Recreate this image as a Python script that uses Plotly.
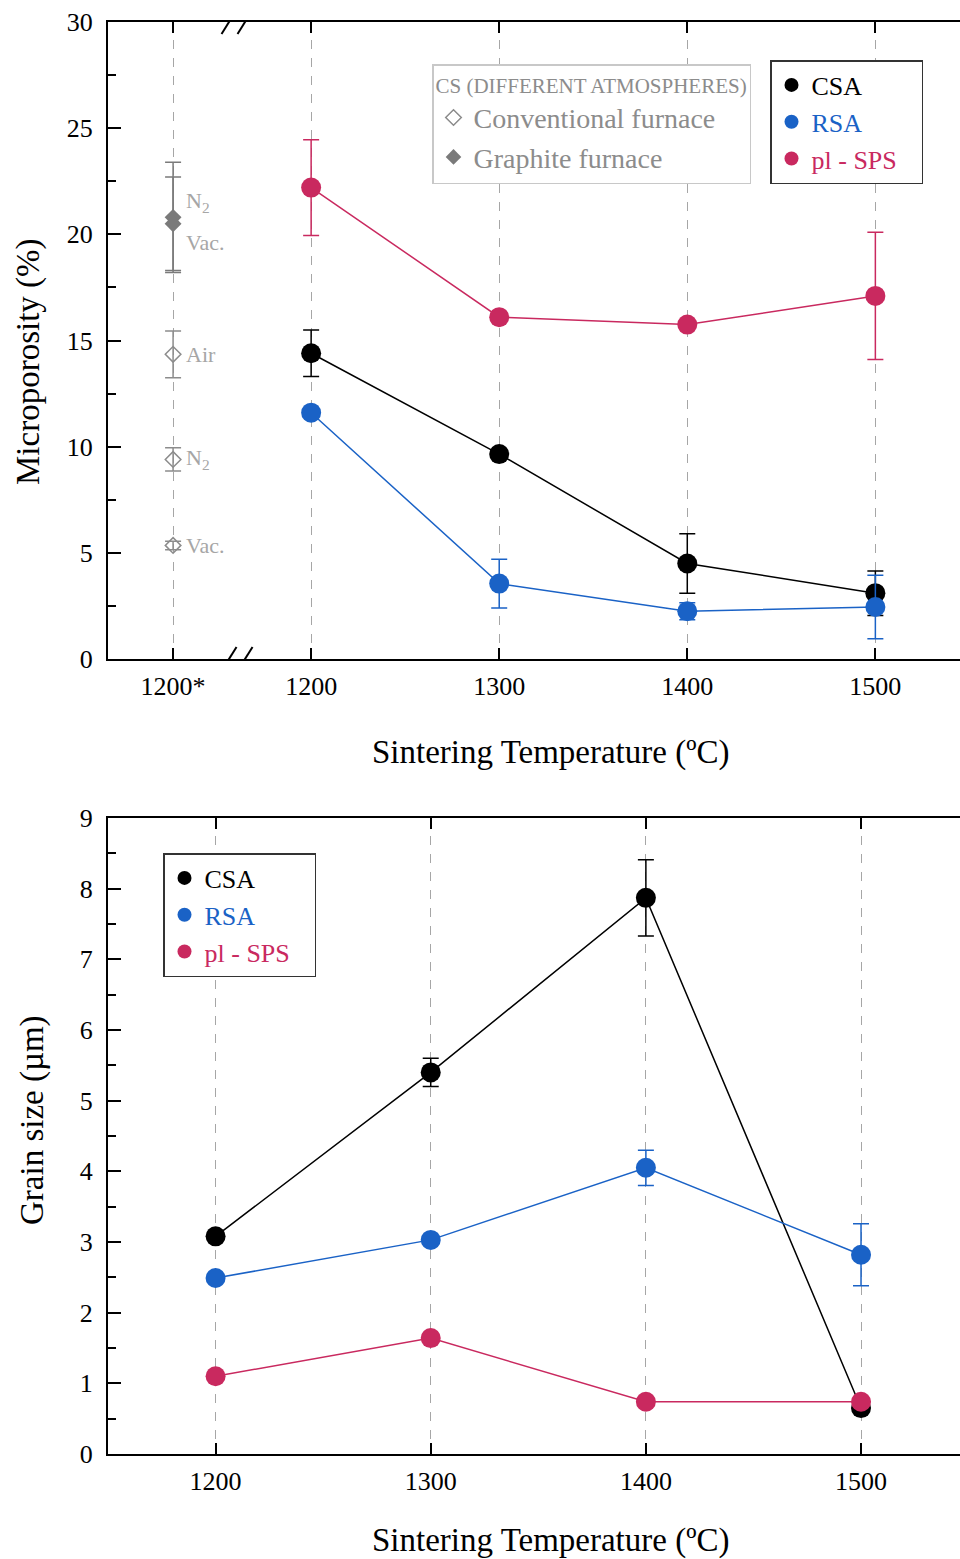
import plotly.graph_objects as go

FONT = "Liberation Serif"
BLACK = "#000000"
BLUE = "#1a62c6"
RED = "#c9295f"
GRAY = "#8c8c8c"
DGRAY = "#7a7a7a"
LGRAY = "#a6a6a6"

# ---------------- data ----------------
temps = [1200, 1300, 1400, 1500]
series_names = ["CSA", "RSA", "pl - SPS"]

# Microporosity (%)
poro_csa = [14.4, 9.65, 4.5, 3.1]
poro_csa_err = [1.1, 0, 1.4, 1.05]
poro_rsa = [11.6, 3.55, 2.25, 2.45]
poro_rsa_err = [0, 1.15, 0.4, 1.5]
poro_sps = [22.2, 16.1, 15.75, 17.1]
poro_sps_err = [2.25, 0, 0, 3.0]

# CS (different atmospheres) at 1200*
cs_label = "1200*"
conv_atm = ["Air", "N<sub>2</sub>", "Vac."]
conv_poro = [14.35, 9.4, 5.35]
conv_err = [1.1, 0.55, 0.2]
graph_atm = ["N<sub>2</sub>", "Vac."]
graph_poro = [20.8, 20.5]
graph_err_plus = [2.6, 2.2]
graph_err_minus = [2.6, 2.2]
cs_label_y = [21.5, 19.6, 14.35, 9.4, 5.35]
cs_label_txt = ["N<sub>2</sub>", "Vac.", "Air", "N<sub>2</sub>", "Vac."]

# Grain size (um)
grain_csa = [3.08, 5.4, 7.87, 0.65]
grain_csa_err = [0, 0.2, 0.54, 0]
grain_rsa = [2.49, 3.03, 4.05, 2.82]
grain_rsa_err = [0, 0, 0.25, 0.44]
grain_sps = [1.1, 1.64, 0.74, 0.74]
grain_sps_err = [0, 0, 0, 0]

# ---------------- layout constants ----------------
W, H = 960, 1559
ML = 108
PW = W - ML
CS_POS = 1126.6      # axis position used for the 1200* column
BREAK_POS = 1160.6   # axis break position


def px_x(p):
    return (p - ML) / PW


def px_y(p):
    return 1 - p / H


colors = [BLACK, BLUE, RED]
fig = go.Figure()


def add_series(xa, ya, ys, errs, color):
    fig.add_trace(go.Scatter(
        x=temps, y=ys, xaxis=xa, yaxis=ya, mode="lines+markers",
        line=dict(color=color, width=1.5),
        marker=dict(color=color, size=20, line=dict(width=0)),
        error_y=dict(type="data", array=errs, color=color, thickness=1.5, width=8),
        showlegend=False, hoverinfo="skip"))


# top panel series
for ys, errs, c in zip([poro_csa, poro_rsa, poro_sps],
                       [poro_csa_err, poro_rsa_err, poro_sps_err], colors):
    add_series("x", "y", ys, errs, c)

# CS points
fig.add_trace(go.Scatter(
    x=[CS_POS] * len(conv_poro), y=conv_poro, xaxis="x", yaxis="y", mode="markers",
    marker=dict(symbol="diamond-open", color=GRAY, size=12, line=dict(width=1.5, color=GRAY)),
    error_y=dict(type="data", array=conv_err, color=GRAY, thickness=1.5, width=8),
    showlegend=False, hoverinfo="skip"))
fig.add_trace(go.Scatter(
    x=[CS_POS] * len(graph_poro), y=graph_poro, xaxis="x", yaxis="y", mode="markers",
    marker=dict(symbol="diamond", color=DGRAY, size=13),
    error_y=dict(type="data", array=graph_err_plus, arrayminus=graph_err_minus,
                 color=DGRAY, thickness=1.5, width=8),
    showlegend=False, hoverinfo="skip"))

# bottom panel series
for ys, errs, c in zip([grain_csa, grain_rsa, grain_sps],
                       [grain_csa_err, grain_rsa_err, grain_sps_err], colors):
    add_series("x2", "y2", ys, errs, c)

# legend-only traces
fig.add_trace(go.Scatter(x=[None], y=[None], xaxis="x", yaxis="y", mode="markers",
                         marker=dict(symbol="diamond-open", color=GRAY, size=12,
                                     line=dict(width=1.5, color=GRAY)),
                         name="Conventional furnace&nbsp;&nbsp;", legend="legend"))
fig.add_trace(go.Scatter(x=[None], y=[None], xaxis="x", yaxis="y", mode="markers",
                         marker=dict(symbol="diamond", color=DGRAY, size=12),
                         name="Graphite furnace", legend="legend"))
for nm, c in zip(series_names, colors):
    label = f"<span style='color:{c}'>{nm}</span>&nbsp;&nbsp;&nbsp;"
    fig.add_trace(go.Scatter(x=[None], y=[None], xaxis="x", yaxis="y", mode="markers",
                             marker=dict(color=c, size=14),
                             name=label, legend="legend2"))
    fig.add_trace(go.Scatter(x=[None], y=[None], xaxis="x2", yaxis="y2", mode="markers",
                             marker=dict(color=c, size=14),
                             name=label, legend="legend3"))

axis_common = dict(showline=True, linecolor=BLACK, linewidth=2, ticks="inside",
                   tickcolor=BLACK, tickwidth=2, zeroline=False, automargin=False,
                   tickfont=dict(family=FONT, size=26, color=BLACK))

fig.update_layout(
    template="none",
    width=W, height=H, margin=dict(l=ML, r=0, t=0, b=0, pad=0, autoexpand=False),
    paper_bgcolor="white", plot_bgcolor="white",
    font=dict(family=FONT, color=BLACK),
    xaxis=dict(domain=[0, 1], anchor="y", range=[1092, 1545],
               tickmode="array", tickvals=[CS_POS] + temps,
               ticktext=[cs_label] + [str(t) for t in temps],
               ticklen=11, mirror="ticks", showgrid=True, gridcolor=LGRAY,
               griddash="dash", gridwidth=1, ticklabelstandoff=3, **axis_common),
    yaxis=dict(domain=[px_y(659), px_y(22)], anchor="x", range=[0, 30], dtick=5,
               ticklen=13, showgrid=False, ticklabelstandoff=8,
               minor=dict(dtick=2.5, ticklen=8, ticks="inside", tickcolor=BLACK, tickwidth=2),
               **axis_common),
    xaxis2=dict(domain=[0, 1], anchor="y2", range=[1150, 1546],
                tickmode="array", tickvals=temps, ticktext=[str(t) for t in temps],
                ticklen=11, mirror="ticks", showgrid=True, gridcolor=LGRAY,
                griddash="dash", gridwidth=1, ticklabelstandoff=3, **axis_common),
    yaxis2=dict(domain=[px_y(1454), px_y(818)], anchor="x2", range=[0, 9], dtick=1,
                ticklen=13, showgrid=False, ticklabelstandoff=8,
                minor=dict(dtick=0.5, ticklen=8, ticks="inside", tickcolor=BLACK, tickwidth=2),
                **axis_common),
    legend=dict(x=px_x(432), y=px_y(64), xanchor="left", yanchor="top",
                bgcolor="white", bordercolor="#c8c8c8", borderwidth=1.5,
                font=dict(family=FONT, size=28, color=GRAY),
                title=dict(text="CS (DIFFERENT ATMOSPHERES)",
                           font=dict(family=FONT, size=21, color=GRAY)),
                tracegroupgap=0),
    legend2=dict(x=px_x(770), y=px_y(60), xanchor="left", yanchor="top",
                 bgcolor="white", bordercolor="#333333", borderwidth=1.5,
                 font=dict(family=FONT, size=26, color=BLACK)),
    legend3=dict(x=px_x(163), y=px_y(853), xanchor="left", yanchor="top",
                 bgcolor="white", bordercolor="#333333", borderwidth=1.5,
                 font=dict(family=FONT, size=26, color=BLACK)),
)

# axis titles
ann = [
    dict(text="Sintering Temperature (ºC)", x=px_x(550), y=px_y(752)),
    dict(text="Sintering Temperature (ºC)", x=px_x(550), y=px_y(1540)),
    dict(text="Microporosity (%)", x=px_x(28), y=px_y(362), textangle=-90),
    dict(text="Grain size (µm)", x=px_x(32), y=px_y(1120), textangle=-90),
]
for a in ann:
    fig.add_annotation(xref="paper", yref="paper", showarrow=False,
                       xanchor="center", yanchor="middle",
                       font=dict(family=FONT, size=33, color=BLACK), **a)

# CS atmosphere labels
for yv, t in zip(cs_label_y, cs_label_txt):
    fig.add_annotation(xref="x", yref="y", x=CS_POS, y=yv, text=t, showarrow=False,
                       xanchor="left", yanchor="middle", xshift=11,
                       font=dict(family=FONT, size=22, color=LGRAY))

# axis break marks
for yv in [0, 30]:
    fig.add_shape(type="rect", xref="x", yref="y", xsizemode="pixel", ysizemode="pixel",
                  xanchor=BREAK_POS, yanchor=yv, x0=-6, x1=6, y0=-3, y1=3,
                  fillcolor="white", line=dict(width=0), layer="above")
    for off in [-8, 8]:
        fig.add_shape(type="line", xref="x", yref="y", xsizemode="pixel", ysizemode="pixel",
                      xanchor=BREAK_POS, yanchor=yv, x0=off - 7.5, x1=off + 7.5, y0=-12, y1=12,
                      line=dict(color=BLACK, width=2), layer="above")

fig.write_html("out.html", config={"displayModeBar": False},
               post_script="document.body.style.margin='0';document.body.style.overflow='hidden';")
